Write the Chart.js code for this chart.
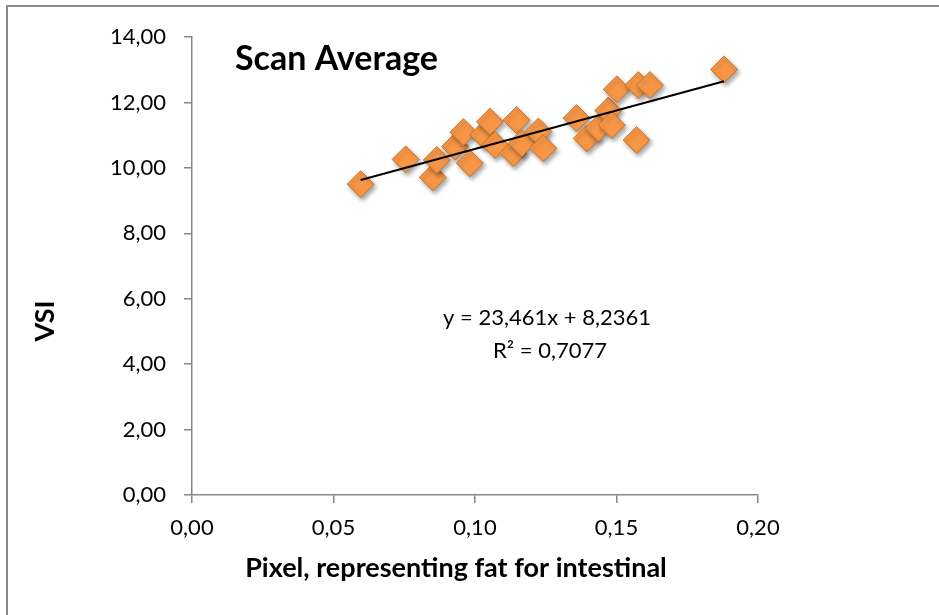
<!doctype html>
<html lang="en">
  <head>
    <meta charset="utf-8">
    <title>Scan Average</title>
    <style>
      * {
        margin: 0;
        padding: 0;
      }
      body {
        background: white;
        overflow: hidden;
      }
      .frame {
        position: absolute;
        left: 6px;
        top: 5px;
        width: 1000px;
        height: 700px;
        border: 2px solid #898989;
      }
      #scanChart {
        position: absolute;
        left: 0;
        top: 0;
      }
    </style>
  </head>
  <body>
    <div class="frame"></div>
    <canvas id="scanChart" width="939" height="615"></canvas>

    <script src="https://cdn.jsdelivr.net/npm/chart.js"></script>
    <script>
    // data
    const pixelFat = [0.0596, 0.0755, 0.0851, 0.0865, 0.0929, 0.0959, 0.0982, 0.1029, 0.1053, 0.1071,
                      0.1135, 0.1147, 0.1165, 0.1224, 0.1241, 0.1359, 0.1395, 0.1436, 0.1471, 0.1483,
                      0.1501, 0.1571, 0.1577, 0.1618, 0.1880];
    const vsi = [9.50, 10.26, 9.71, 10.24, 10.65, 11.09, 10.14, 11.01, 11.41, 10.70,
                 10.45, 11.46, 10.75, 11.11, 10.60, 11.52, 10.90, 11.21, 11.75, 11.31,
                 12.40, 10.85, 12.53, 12.53, 13.01];
    const trendX = [0.0596, 0.1880];
    const trendY = [9.63, 12.65];
    const xTicks = [0, 0.05, 0.10, 0.15, 0.20];
    const yTicks = [0, 2, 4, 6, 8, 10, 12, 14];
    const chartTitle = 'Scan Average';
    const xTitle = 'Pixel, representing fat for intestinal';
    const yTitle = 'VSI';
    const equation = ['y = 23,461x + 8,2361', 'R\u00B2 = 0,7077'];

    const FONT = 'Lato, "Open Sans", sans-serif';
    const comma = v => Number(v).toFixed(2).replace('.', ',');

    // text that sits outside chart.js' own boxes
    const labelsPlugin = {
      id: 'labels',
      afterDraw(chart) {
        const ctx = chart.ctx;
        ctx.save();
        ctx.fillStyle = '#000';
        ctx.textBaseline = 'middle';

        ctx.font = 'bold 34px ' + FONT;
        ctx.textAlign = 'left';
        ctx.fillText(chartTitle, 235, 59);

        ctx.font = 'bold 27px ' + FONT;
        ctx.textAlign = 'center';
        ctx.fillText(xTitle, 456, 568);

        ctx.save();
        ctx.translate(45, 321);
        ctx.rotate(-Math.PI / 2);
        ctx.fillText(yTitle, 0, 0);
        ctx.restore();

        ctx.font = '22px ' + FONT;
        ctx.fillText(equation[0], 547, 318);
        ctx.fillText(equation[1], 550, 351);
        ctx.restore();
      }
    };

    // soft drop shadow under the markers
    const shadowPlugin = {
      id: 'markerShadow',
      beforeDatasetDraw(chart, args) {
        if (args.index !== 1) return;
        const ctx = chart.ctx;
        ctx.save();
        ctx.shadowColor = 'rgba(0, 0, 0, 0.35)';
        ctx.shadowBlur = 4;
        ctx.shadowOffsetX = 2;
        ctx.shadowOffsetY = 3;
      },
      afterDatasetDraw(chart, args) {
        if (args.index !== 1) return;
        chart.ctx.restore();
      }
    };

    const data = {
      datasets: [{
        type: 'line',
        label: 'Linear trend',
        data: trendX.map((x, i) => ({x: x, y: trendY[i]})),
        borderColor: '#000',
        borderWidth: 2,
        pointRadius: 0,
        fill: false
      }, {
        type: 'scatter',
        label: 'Scan Average',
        data: pixelFat.map((x, i) => ({x: x, y: vsi[i]})),
        pointStyle: 'rectRot',
        pointRadius: 13.5,
        pointHoverRadius: 13.5,
        backgroundColor: '#F79646',
        borderColor: '#C4752F',
        borderWidth: 1
      }]
    };

    const axisGray = '#878787';

    const config = {
      type: 'scatter',
      data,
      plugins: [shadowPlugin, labelsPlugin],
      options: {
        responsive: false,
        animation: false,
        layout: {
          padding: {left: 0, top: 37, right: 181, bottom: 0}
        },
        plugins: {
          legend: {display: false},
          tooltip: {enabled: false}
        },
        scales: {
          x: {
            type: 'linear',
            min: 0,
            max: 0.2,
            afterFit: s => { s.height = 120; },
            afterBuildTicks: s => { s.ticks = xTicks.map(v => ({value: v})); },
            ticks: {
              callback: comma,
              color: '#000',
              padding: 12,
              maxRotation: 0,
              font: {family: FONT, size: 22}
            },
            grid: {
              drawOnChartArea: false,
              tickLength: 8,
              color: axisGray,
              lineWidth: 1.5
            },
            border: {color: axisGray, width: 1.5}
          },
          y: {
            type: 'linear',
            min: 0,
            max: 14,
            afterFit: s => { s.width = 192; },
            afterBuildTicks: s => { s.ticks = yTicks.map(v => ({value: v})); },
            ticks: {
              callback: comma,
              color: '#000',
              padding: 18,
              font: {family: FONT, size: 22}
            },
            grid: {
              drawOnChartArea: false,
              tickLength: 8,
              color: axisGray,
              lineWidth: 1.5
            },
            border: {color: axisGray, width: 1.5}
          }
        }
      }
    };

    const scanChart = new Chart(document.getElementById('scanChart'), config);
    </script>
  </body>
</html>
